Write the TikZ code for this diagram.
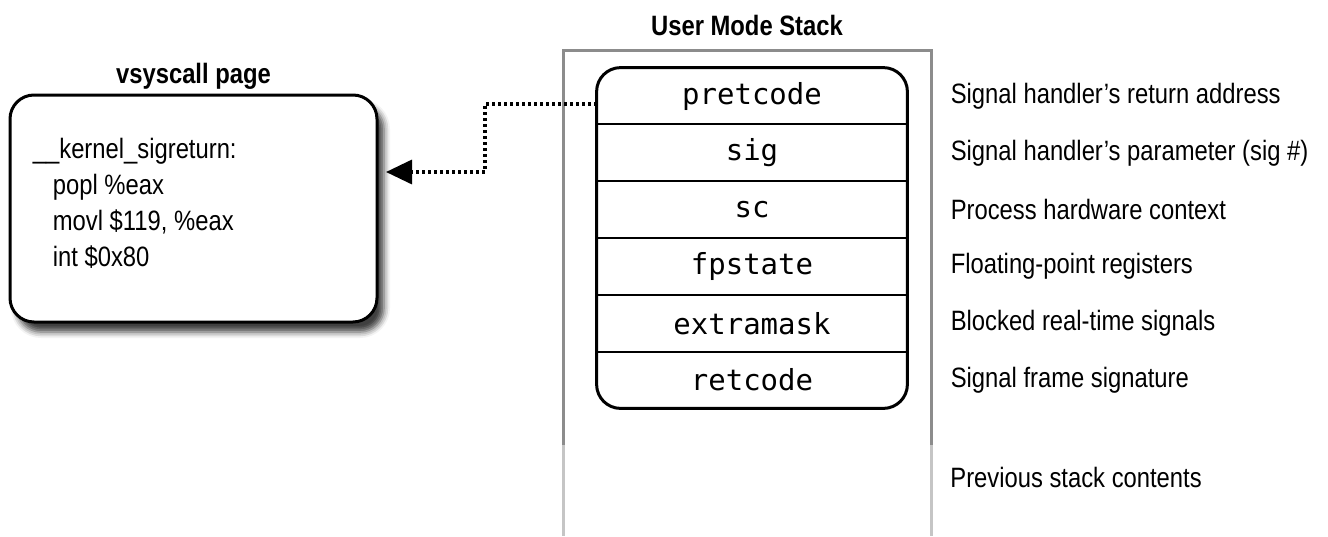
\documentclass[tikz,border=0pt]{standalone}
\usepackage{fontspec}
\setmainfont{Liberation Sans}[FakeStretch=0.85]
\newfontfamily\stackmono{DejaVu Sans Mono}
\usetikzlibrary{arrows.meta,positioning,shadows.blur}
\definecolor{framegray}{RGB}{140,140,140}

\begin{document}
\begin{tikzpicture}[x=0.5pt, y=-0.5pt, node distance=0pt,
  title/.style={font=\fontsize{14}{16}\selectfont\bfseries, inner sep=2pt},
  page/.style={draw, line width=1.5pt, rounded corners=12pt, fill=white,
               minimum width=183.5pt, minimum height=113.5pt,
               blur shadow={shadow xshift=3.5pt, shadow yshift=-5pt,
                            shadow blur radius=3pt, shadow opacity=75}},
  code/.style={align=left, inner sep=0pt, font=\fontsize{14}{18}\selectfont},
  slot/.style={minimum width=155pt, minimum height=28pt, inner sep=0pt,
               font=\stackmono\fontsize{14.5}{16}\selectfont},
  note/.style={inner sep=0pt, anchor=west, font=\fontsize{14}{16}\selectfont},
  frame/.style={draw=framegray, line width=1.5pt},
  link/.style={line width=1.7pt, dash pattern=on 1.5pt off 1.5pt,
               -{Triangle[length=13pt,width=12pt]}}]

\useasboundingbox (0,0) rectangle (1328,536);

% vsyscall page
\node[page] (vsys) at (193.5,208.5) {};
\node[title, above=0pt of vsys] (vtitle) {vsyscall page};
\node[code, anchor=north west] (code) at ([xshift=12pt,yshift=-22pt]vsys.north west)
  {\_\_kernel\_sigreturn:\\
   \hspace*{10pt}popl \%eax\\
   \hspace*{10pt}movl \$119, \%eax\\
   \hspace*{10pt}int \$0x80};

% user mode stack
\draw[frame] (563,445) |- (931,50) -- (931,445);
\draw[frame, draw=framegray!50] (563,445) -- (563,536) (931,445) -- (931,536);
\node[title] (stitle) at (747,25) {User Mode Stack};

\node[slot] (pret) at (752,96) {pretcode};
\node[slot, below=of pret] (sig) {sig};
\node[slot, below=of sig] (sc) {sc};
\node[slot, below=of sc] (fps) {fpstate};
\node[slot, below=of fps] (xmask) {extramask};
\node[slot, below=of xmask] (ret) {retcode};
\draw[line width=1.5pt, rounded corners=12pt] (pret.north west) rectangle (ret.south east);
\draw[line width=1pt] (sig.north west) -- (sig.north east);
\draw[line width=1pt] (sc.north west) -- (sc.north east);
\draw[line width=1pt] (fps.north west) -- (fps.north east);
\draw[line width=1pt] (xmask.north west) -- (xmask.north east);
\draw[line width=1pt] (ret.north west) -- (ret.north east);

% descriptions
\node[note, right=21.5pt of pret] (pretn) {Signal handler’s return address};
\node[note, right=21.5pt of sig] (sign) {Signal handler’s parameter (sig \#)};
\node[note, right=21.5pt of sc] (scn) {Process hardware context};
\node[note, right=21.5pt of fps] (fpsn) {Floating-point registers};
\node[note, right=21.5pt of xmask] (xmaskn) {Blocked real-time signals};
\node[note, right=21.5pt of ret] (retn) {Signal frame signature};
\node[note] (prev) at (950,477) {Previous stack contents};

% return path
\coordinate (bend) at (485,172);
\coordinate (tip) at (386,172);
\draw[link] ([yshift=-4pt]pret.west) -| (bend) -- (tip);
\end{tikzpicture}
\end{document}
